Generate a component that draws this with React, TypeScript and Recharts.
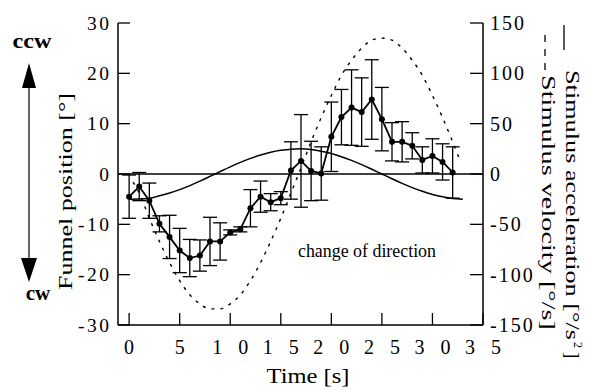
import { LineChart, Line, XAxis, YAxis, ReferenceLine, ErrorBar } from "recharts";

const SERIF = '"Liberation Serif", "Times New Roman", Times, serif';

// funnel position (left axis), one point per second
const funnelTime = [0, 1, 2, 3, 4, 5, 6, 7, 8, 9, 10, 11, 12, 13, 14, 15, 16, 17, 18, 19, 20, 21, 22, 23, 24, 25, 26, 27, 28, 29, 30, 31, 32];
const funnelPos = [-4.5, -2.5, -5.3, -9.9, -12.5, -15.2, -16.7, -16.2, -13.4, -13.4, -11.6, -11.0, -6.8, -4.5, -5.6, -4.8, 0.7, 2.6, 0.6, 0.1, 7.4, 11.3, 13.2, 12.3, 14.8, 10.9, 6.4, 6.4, 5.6, 2.8, 3.6, 2.4, 0.3];
const funnelErr = [4.3, 2.8, 3.5, 1.6, 4.3, 4.4, 3.7, 3.1, 4.8, 3.7, 0.5, 0.5, 3.7, 3.1, 1.7, 1.3, 5.7, 9.2, 5.9, 5.3, 6.9, 5.5, 7.5, 6.8, 7.9, 6.3, 3.8, 4.0, 2.6, 2.6, 3.4, 3.6, 5.1];

// stimulus acceleration (right axis, solid)
const accTime = [0, 1, 2, 3, 4, 5, 6, 7, 8, 9, 10, 11, 12, 13, 14, 15, 16, 17, 18, 19, 20, 21, 22, 23, 24, 25, 26, 27, 28, 29, 30, 31, 32, 33];
const accValues = [-25, -24.9, -24.2, -21.7, -18.9, -15.5, -11.5, -7.1, -2.4, 2.4, 7.1, 11.5, 15.5, 18.9, 21.7, 23.6, 24.7, 25, 24.3, 22.7, 20.3, 17.2, 13.5, 9.3, 4.7, 0, -4.7, -9.3, -13.5, -17.2, -20.3, -22.7, -24.3, -25];

// stimulus velocity (right axis, dashed)
const velTime = [0.4, 1, 2, 3, 4, 5, 6, 7, 8, 9, 10, 11, 12, 13, 14, 15, 16, 17, 18, 19, 20, 21, 22, 23, 24, 25, 26, 27, 28, 29, 30, 31, 32, 32.7];
const velValues = [-8, -19, -44, -67, -88, -106, -120, -129, -134, -134, -129, -120, -106, -88, -67, -44, -19, 6, 32, 56, 78, 98, 113, 125, 133, 135, 133, 125, 113, 98, 78, 56, 32, 14];

const timeTicks = [0, 5, 10, 15, 20, 25, 30, 35];
const posTicks = [-30, -20, -10, 0, 10, 20, 30];
const stimTicks = [-150, -100, -50, 0, 50, 100, 150];

const funnelData = funnelTime.map((t, i) => ({ t, pos: funnelPos[i], err: funnelErr[i] }));
const accData = accTime.map((t, i) => ({ t, acc: accValues[i] }));
const velData = velTime.map((t, i) => ({ t, vel: velValues[i] }));

const txt = { fontFamily: SERIF };

function TimeTick(props: any) {
  const { x, y, payload } = props;
  const sp = 16;
  return (
    <text x={x + sp / 2} y={y} dy="0.71em" textAnchor="middle" style={txt} fontSize={20} letterSpacing={sp} fill="#000">
      {payload.value}
    </text>
  );
}

function PosTick(props: any) {
  const { x, y, payload } = props;
  const sp = 2.5;
  return (
    <text x={x + sp} y={y} dy="0.35em" textAnchor="end" style={txt} fontSize={19.5} letterSpacing={sp} fill="#000">
      {payload.value}
    </text>
  );
}

function StimTick(props: any) {
  const { x, y, payload } = props;
  return (
    <text x={x} y={y} dy="0.35em" textAnchor="start" style={txt} fontSize={20} letterSpacing={2} fill="#000">
      {payload.value}
    </text>
  );
}

const axisStyle = { stroke: "#000", strokeWidth: 1.5 };
const tickStyle = { stroke: "#000", strokeWidth: 1.3 };

export default function App() {
  return (
    <div style={{ position: "absolute", left: 0, top: 0, width: 589, height: 390, background: "#fff" }}>
      <LineChart
        width={589}
        height={390}
        margin={{ top: 23, right: 0, bottom: 0, left: 0 }}
        style={{ fontFamily: SERIF }}
      >
        <XAxis
          type="number"
          dataKey="t"
          domain={[-1.1, 35]}
          ticks={timeTicks}
          interval={0}
          allowDataOverflow
          height={65}
          tickSize={-12}
          tickMargin={27}
          tick={(p: any) => <TimeTick {...p} />}
          axisLine={axisStyle}
          tickLine={tickStyle}
        />
        <YAxis
          yAxisId="left"
          orientation="left"
          type="number"
          domain={[-30, 30]}
          ticks={posTicks}
          interval={0}
          width={118}
          tickSize={-12}
          tickMargin={21}
          tick={(p: any) => <PosTick {...p} />}
          axisLine={axisStyle}
          tickLine={tickStyle}
        />
        <YAxis
          yAxisId="right"
          orientation="right"
          type="number"
          domain={[-150, 150]}
          ticks={stimTicks}
          interval={0}
          width={106}
          tickSize={-13}
          tickMargin={20}
          tick={(p: any) => <StimTick {...p} />}
          axisLine={axisStyle}
          tickLine={tickStyle}
        />
        <ReferenceLine yAxisId="left" y={0} stroke="#000" strokeWidth={1.5} />
        <Line
          yAxisId="right"
          data={accData}
          dataKey="acc"
          type="monotone"
          stroke="#000"
          strokeWidth={1.5}
          dot={false}
          isAnimationActive={false}
        />
        <Line
          yAxisId="right"
          data={velData}
          dataKey="vel"
          type="monotone"
          stroke="#000"
          strokeWidth={1.4}
          strokeDasharray="3 6"
          dot={false}
          isAnimationActive={false}
        />
        <Line
          yAxisId="left"
          data={funnelData}
          dataKey="pos"
          type="linear"
          stroke="#000"
          strokeWidth={1.8}
          dot={{ r: 3, fill: "#000", stroke: "#000", strokeWidth: 0 }}
          isAnimationActive={false}
        >
          <ErrorBar dataKey="err" width={7} stroke="#000" strokeWidth={1.3} direction="y" />
        </Line>
      </LineChart>

      <svg
        width={589}
        height={390}
        style={{ position: "absolute", left: 0, top: 0, pointerEvents: "none" }}
        fill="#000"
      >
        {/* rotation direction arrow */}
        <line x1={29} y1={86} x2={29} y2={260} stroke="#000" strokeWidth={1.2} />
        <polygon points="29,63 22,88 36,88" fill="#000" />
        <polygon points="29,282 21,258 37,258" fill="#000" />
        <text x={32} y={48} textAnchor="middle" style={txt} fontSize={21} fontWeight="bold" textLength={39} lengthAdjust="spacingAndGlyphs">ccw</text>
        <text x={38} y={300} textAnchor="middle" style={txt} fontSize={21} fontWeight="bold">cw</text>

        <text
          x={72}
          y={191.5}
          textAnchor="middle"
          style={txt}
          fontSize={19}
          textLength={197}
          lengthAdjust="spacingAndGlyphs"
          transform="rotate(-90 72 191.5)"
        >
          Funnel position [°]
        </text>

        <text x={308} y={383} textAnchor="middle" style={txt} fontSize={21} textLength={83} lengthAdjust="spacingAndGlyphs">
          Time [s]
        </text>

        <text x={298} y={257} style={txt} fontSize={18} textLength={138} lengthAdjust="spacingAndGlyphs">
          change of direction
        </text>

        {/* right-hand legend titles */}
        <line x1={564} y1={25} x2={564} y2={50} stroke="#000" strokeWidth={1.3} />
        <g transform="rotate(90 566 70)">
          <text x={566} y={70} style={txt} fontSize={19} textLength={270} lengthAdjust="spacingAndGlyphs">
            Stimulus acceleration [°/s
          </text>
          <text x={838} y={62} style={txt} fontSize={12}>2</text>
          <text x={848} y={70} style={txt} fontSize={19}>]</text>
        </g>
        <line x1={545} y1={35} x2={545} y2={72} stroke="#000" strokeWidth={1.3} strokeDasharray="7 7" />
        <text
          x={542}
          y={75}
          style={txt}
          fontSize={19}
          textLength={255}
          lengthAdjust="spacingAndGlyphs"
          transform="rotate(90 542 75)"
        >
          Stimulus velocity [°/s]
        </text>
      </svg>
    </div>
  );
}
